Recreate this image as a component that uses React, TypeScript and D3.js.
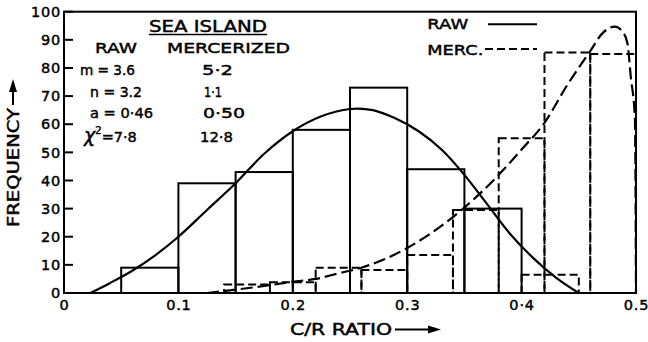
import React from "react";
import * as d3 from "d3";

// ---- data ----
const xTickValues = [0, 0.1, 0.2, 0.3, 0.4, 0.5];
const xTickLabels = ["0", "0.1", "0.2", "0.3", "0·4", "0.5"];
const yTickValues = [0, 10, 20, 30, 40, 50, 60, 70, 80, 90, 100];

// Raw histogram (solid), bin width 0.05
const rawBinStarts = [0.05, 0.1, 0.15, 0.2, 0.25, 0.3, 0.35, 0.4];
const rawFreq = [9, 39, 43, 58, 73, 44, 30, 6.5];
const rawBinWidth = 0.05;

// Mercerized histogram (dashed), bin width 0.04
const mercBinStarts = [0.14, 0.18, 0.22, 0.26, 0.3, 0.34, 0.38, 0.42, 0.46];
const mercFreq = [3, 3.8, 9, 8.2, 13.5, 29.5, 55, 85.5, 85];
const mercBinWidth = 0.04;

// Fitted curves
const rawCurveX = [0.023, 0.04, 0.06, 0.08, 0.1, 0.125, 0.15, 0.175, 0.2, 0.225, 0.25, 0.27, 0.29, 0.31, 0.33, 0.35, 0.37, 0.39, 0.41, 0.43, 0.45];
const rawCurveY = [0, 3.5, 8, 13.5, 20, 29.5, 39, 49.5, 57.5, 62.8, 65.4, 65, 62, 57.5, 51, 42, 31.5, 21, 12.5, 5.5, 0];
const mercCurveX = [0.125, 0.15, 0.175, 0.2, 0.22, 0.24, 0.26, 0.28, 0.3, 0.32, 0.34, 0.36, 0.38, 0.4, 0.42, 0.44, 0.46, 0.4706, 0.4816, 0.488, 0.4925, 0.4954, 0.4991, 0.5];
const mercCurveY = [0, 1.2, 2.5, 4, 5, 7, 9, 12, 16, 21, 27, 34, 42, 51, 60.5, 74, 86, 92.3, 94.7, 93, 88.8, 77, 61.5, 0];

const FONT = "'DejaVu Sans', sans-serif";

function T(props: any) {
  const { children, len, ...rest } = props;
  return (
    <text
      fontSize={14.5}
      stroke="#000"
      strokeWidth={0.45}
      {...(len ? { textLength: len, lengthAdjust: "spacingAndGlyphs" } : {})}
      {...rest}
    >
      {children}
    </text>
  );
}

export default function App() {
  const W = 648, H = 342;
  const x = d3.scaleLinear().domain([0, 0.5]).range([64, 636]);
  const y = d3.scaleLinear().domain([0, 100]).range([293, 11.7]);

  const rawLine = d3
    .line<[number, number]>()
    .x((d) => x(d[0]))
    .y((d) => y(d[1]))
    .curve(d3.curveCatmullRom.alpha(0.5));
  const mercLine = d3
    .line<[number, number]>()
    .x((d) => x(d[0]))
    .y((d) => y(d[1]))
    .curve(d3.curveMonotoneX);

  const rawPts = rawCurveX.map((v, i) => [v, rawCurveY[i]] as [number, number]);
  const mercPts = mercCurveX.map((v, i) => [v, mercCurveY[i]] as [number, number]);

  const sw = 2;
  const histDash = "8,4";
  const curveDash = "12,5";

  return (
    <svg width={W} height={H} style={{ position: "absolute", left: 0, top: 0, background: "#fff" }} fontFamily={FONT}>
      <rect width={W} height={H} fill="#fff" />
      {/* mercerized histogram */}
      {mercBinStarts.map((s, i) => (
        <rect
          key={"m" + i}
          x={x(s)}
          y={y(mercFreq[i])}
          width={x(s + mercBinWidth) - x(s)}
          height={y(0) - y(mercFreq[i])}
          fill="none"
          stroke="#000"
          strokeWidth={sw}
          strokeDasharray={histDash}
        />
      ))}
      {/* raw histogram */}
      {rawBinStarts.map((s, i) => {
        const last = i === rawBinStarts.length - 1;
        return (
          <rect
            key={"r" + i}
            x={x(s)}
            y={y(rawFreq[i])}
            width={x(s + rawBinWidth) - x(s)}
            height={y(0) - y(rawFreq[i])}
            fill="none"
            stroke="#000"
            strokeWidth={sw}
            strokeDasharray={last ? histDash : undefined}
          />
        );
      })}
      {/* curves */}
      <path d={rawLine(rawPts) || ""} fill="none" stroke="#000" strokeWidth={2.2} />
      <path d={mercLine(mercPts) || ""} fill="none" stroke="#000" strokeWidth={2.2} strokeDasharray={curveDash} />

      {/* frame */}
      <rect x={x(0)} y={y(100)} width={x(0.5) - x(0)} height={y(0) - y(100)} fill="none" stroke="#000" strokeWidth={2} />

      {/* y ticks */}
      {yTickValues.map((v) => (
        <g key={"yt" + v}>
          <line x1={x(0)} x2={x(0) + 9} y1={y(v)} y2={y(v)} stroke="#000" strokeWidth={2} />
          <T x={61} y={y(v) + 5.2} textAnchor="end" letterSpacing={0.8}>
            {v}
          </T>
        </g>
      ))}
      {/* x tick labels */}
      {xTickValues.map((v, i) => (
        <T key={"xt" + v} x={x(v) + 0.5} y={310} textAnchor="middle" letterSpacing={0.8}>
          {xTickLabels[i]}
        </T>
      ))}

      {/* x title */}
      <T x={290} y={335} fontSize={15} len={102}>
        C/R RATIO
      </T>
      <line x1={395} x2={430} y1={329.5} y2={329.5} stroke="#000" strokeWidth={2} />
      <path d="M441,329.5 L428,325.5 L428,333.5 Z" fill="#000" />

      {/* y title */}
      <T transform="translate(18.5,227) rotate(-90)" fontSize={15} len={119}>
        FREQUENCY
      </T>
      <line x1={13} x2={13} y1={105} y2={91} stroke="#000" strokeWidth={2} />
      <path d="M13,79 L9,92 L17,92 Z" fill="#000" />

      {/* annotation block */}
      <T x={149} y={31.5} fontSize={15.5} len={118}>SEA ISLAND</T>
      <line x1={149} x2={267} y1={34.5} y2={34.5} stroke="#000" strokeWidth={1.6} />
      <T x={95} y={53.3} len={42}>RAW</T>
      <T x={167} y={53.3} len={123}>MERCERIZED</T>

      <T x={80} y={75} len={55}>m = 3.6</T>
      <T x={202} y={75} len={31}>5·2</T>
      <T x={90} y={96.7} len={52}>n = 3.2</T>
      <T x={204} y={96.7} len={18}>1·1</T>
      <T x={90} y={118.3} len={63}>a = 0·46</T>
      <T x={203} y={118.3} len={42}>0·50</T>
      <T x={84} y={141.7}>
        <tspan fontSize={19} fontStyle="italic">χ</tspan>
        <tspan fontSize={10} dy={-8}>2</tspan>
        <tspan dy={8}>=7·8</tspan>
      </T>
      <T x={200} y={141.7} len={33}>12·8</T>

      {/* legend */}
      <T x={427.3} y={29.3} len={41}>RAW</T>
      <line x1={488} x2={537} y1={24.3} y2={24.3} stroke="#000" strokeWidth={2} />
      <T x={427.3} y={55} len={56}>MERC.</T>
      <line x1={485} x2={537} y1={49} y2={49} stroke="#000" strokeWidth={2} strokeDasharray="8,4" />
    </svg>
  );
}
